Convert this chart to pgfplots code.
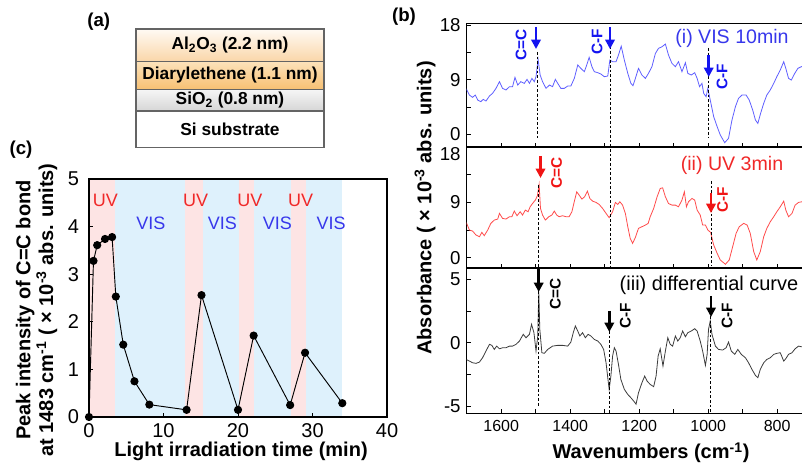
\documentclass[border=0pt]{standalone}
\usepackage{fontspec}
\setmainfont{Liberation Sans}
\usepackage{pgfplots}
\pgfplotsset{compat=1.18}
\usetikzlibrary{arrows.meta}
\definecolor{uvpink}{RGB}{253,228,228}
\definecolor{visblue}{RGB}{222,241,252}
\definecolor{uvtext}{RGB}{240,40,40}
\definecolor{vistext}{RGB}{55,55,235}
\definecolor{cblue}{RGB}{95,95,255}
\definecolor{cred}{RGB}{255,75,75}
\definecolor{cgray}{RGB}{60,60,60}
\definecolor{ablue}{RGB}{20,20,240}
\definecolor{ared}{RGB}{240,20,20}
\definecolor{stackgray}{RGB}{100,100,100}
\definecolor{alTop}{RGB}{255,250,244}
\definecolor{alBot}{RGB}{250,214,168}
\definecolor{diTop}{RGB}{252,226,186}
\definecolor{diBot}{RGB}{247,192,115}
\definecolor{siTop}{RGB}{246,246,246}
\definecolor{siBot}{RGB}{214,214,214}
\newcommand{\fs}[1]{\fontsize{#1}{#1}\selectfont}
\pgfplotsset{
  myax/.style={scale only axis, axis line style={line width=1.2pt}, tick align=inside,
    xtick pos=bottom, ytick pos=left, major tick length=3pt, minor tick length=3pt,
    tick style={black, line width=0.6pt}, /pgf/number format/assume math mode=true,
    /pgf/number format/set thousands separator={}},
  specax/.style={myax, x dir=reverse, xmin=700, xmax=1700, width=258.75pt,
    xtick={800,1000,...,1600}, minor xtick={700,900,...,1700},
    yticklabel style={font=\fs{14}, xshift=-1pt},
    xticklabel style={font=\fs{12}, yshift=-1.5pt}},
}
\begin{document}
\begin{tikzpicture}
% ---------------- panel (c)
\begin{axis}[myax, at={(66.75pt,36.75pt)}, anchor=south west, width=223.5pt, height=178.5pt,
  axis line style={line width=2pt}, axis on top,
  xmin=0, xmax=40, ymin=0, ymax=5, xtick={0,10,...,40}, ytick={0,1,...,5},
  ticklabel style={font=\fs{15}}, yticklabel style={xshift=-4pt}, xticklabel style={yshift=-1pt}]
\fill[uvpink] (axis cs:0,0) rectangle (axis cs:3.45,5);
\fill[visblue] (axis cs:3.45,0) rectangle (axis cs:12.9,5);
\fill[uvpink] (axis cs:12.9,0) rectangle (axis cs:15.3,5);
\fill[visblue] (axis cs:15.3,0) rectangle (axis cs:20.2,5);
\fill[uvpink] (axis cs:20.2,0) rectangle (axis cs:22.1,5);
\fill[visblue] (axis cs:22.1,0) rectangle (axis cs:27.1,5);
\fill[uvpink] (axis cs:27.1,0) rectangle (axis cs:29.1,5);
\fill[visblue] (axis cs:29.1,0) rectangle (axis cs:33.9,5);
\addplot[black, line width=0.7pt, mark=*, mark size=2.7pt] coordinates {
(0,0) (0.6,3.28) (1.1,3.61) (2.15,3.74) (3.1,3.78) (3.6,2.53) (4.6,1.52) (6.1,0.75)
(8.1,0.26) (13.1,0.15) (15.1,2.56) (20,0.15) (22.1,1.71) (27,0.25) (29,1.35) (34,0.29)};
\node[uvtext, font=\fs{13.5}] at (axis cs:2.2,4.56) {UV};
\node[uvtext, font=\fs{13.5}] at (axis cs:14.3,4.56) {UV};
\node[uvtext, font=\fs{13.5}] at (axis cs:21.6,4.56) {UV};
\node[uvtext, font=\fs{13.5}] at (axis cs:28.4,4.56) {UV};
\node[vistext, font=\fs{13.5}] at (axis cs:8.3,4.06) {VIS};
\node[vistext, font=\fs{13.5}] at (axis cs:17.9,4.06) {VIS};
\node[vistext, font=\fs{13.5}] at (axis cs:25.3,4.06) {VIS};
\node[vistext, font=\fs{13.5}] at (axis cs:32.5,4.06) {VIS};
\end{axis}
% ---------------- panel (b) top
\begin{axis}[specax, at={(350pt,239pt)}, anchor=south west, height=93pt,
  ymin=-2.14, ymax=18.26, ytick={0,9,18}, minor ytick={4.5,13.5}, xticklabels={}]
\addplot[cblue, line width=0.6pt] table {
1702 7.56
1692 6.46
1683 6.08
1675 6.46
1668 5.64
1659 5.37
1652 5.75
1644 5.48
1634 6.3
1625 6.74
1615 7.56
1605 8.66
1596 7.56
1586 7.29
1576 7.84
1567 7.84
1560 9.37
1552 8.11
1543 8.66
1533 8.38
1525 9.04
1518 8.38
1511 9.2
1504 8.66
1499 9.48
1493 12.33
1487 9.75
1480 8.66
1470 7.56
1460 8.11
1451 7.84
1443 9.04
1436 8.38
1427 7.56
1417 7.56
1407 7.95
1398 7.95
1388 9.2
1378 11.4
1369 10.85
1359 10.3
1352 11.4
1345 12.66
1337 11.13
1330 10.3
1320 10.14
1311 9.92
1301 9.48
1291 9.59
1285 12.22
1277 11.95
1267 11.95
1260 13.04
1252 14.5
1243 12.22
1233 10.03
1224 8.38
1218 8.0
1211 9.2
1202 10.85
1192 9.75
1182 9.2
1173 10.03
1163 11.13
1153 13.3
1144 14.14
1134 14.4
1124 14.85
1115 13.04
1105 11.67
1095 11.13
1086 11.95
1076 10.3
1066 11.78
1059 10.03
1049 9.75
1039 10.14
1032 9.2
1025 7.84
1018 8.38
1013 6.74
1006 6.19
1001 7.56
994 5.64
984 2.9
974 1.26
965 -0.1
952 -1.38
941 -0.66
931 2.35
921 4.55
912 5.92
902 6.46
890 6.46
881 5.64
871 4.0
863 2.35
856 1.8
848 3.45
839 5.1
830 6.46
820 7.29
810 8.38
801 9.48
791 10.58
781 11.95
775 10.85
767 9.2
759 8.93
749 10.03
740 10.85
730 11.13
700 11.3
};
\end{axis}
% ---------------- panel (b) middle
\begin{axis}[specax, at={(350pt,148.3pt)}, anchor=south west, height=90.75pt,
  ymin=-1.72, ymax=18.0, ytick={0,9}, extra y ticks={18}, extra y tick style={yticklabel style={yshift=-5pt}},
  minor ytick={4.5,13.5}, xticklabels={}]
\addplot[cred, line width=0.6pt] table {
1702 5.86
1692 4.51
1683 4.35
1673 3.7
1663 3.42
1656 4.13
1649 3.59
1639 4.51
1630 5.59
1620 6.13
1610 6.3
1605 7.22
1596 6.41
1586 6.3
1576 6.68
1569 6.68
1562 7.6
1554 6.84
1545 7.49
1538 6.95
1530 7.76
1522 7.49
1516 8.3
1509 8.84
1501 9.39
1495 10.09
1490 11.93
1486 8.03
1480 6.95
1472 6.13
1462 6.68
1453 6.95
1446 7.6
1439 6.95
1432 6.68
1422 6.84
1412 6.68
1403 6.68
1395 7.49
1387 9.39
1381 10.74
1374 10.2
1366 9.55
1358 9.93
1350 10.85
1343 9.66
1335 9.22
1325 9.01
1316 8.68
1306 8.03
1296 7.22
1287 6.52
1277 7.49
1269 9.01
1262 8.68
1256 9.12
1248 8.57
1240 7.22
1233 5.05
1226 3.15
1219 2.34
1211 3.3
1202 4.78
1192 5.05
1182 5.32
1174 5.59
1168 6.68
1158 8.03
1148 9.93
1139 11.28
1132 11.39
1124 9.93
1115 8.84
1105 8.57
1095 8.57
1086 8.3
1076 9.39
1069 10.74
1063 8.3
1057 9.12
1047 9.66
1039 9.39
1032 7.76
1023 6.95
1016 5.32
1008 5.32
1001 4.51
993 4.13
984 2.07
974 0.72
965 -0.37
950 -1.07
939 -0.37
929 1.8
919 3.97
910 5.05
897 5.59
887 5.32
878 3.97
868 0.99
859 -0.37
849 0.99
839 3.42
830 4.78
820 5.86
810 6.68
801 7.49
791 8.3
781 9.22
775 7.76
767 6.68
757 7.22
748 8.57
738 9.01
728 9.12
700 9.3
};
\end{axis}
% ---------------- panel (b) bottom
\begin{axis}[specax, at={(350pt,39.5pt)}, anchor=south west, height=108.8pt,
  ymin=-5.57, ymax=5.87, ytick={-5,0,5}, minor ytick={-2.5,2.5}]
\addplot[cgray, line width=0.6pt] table {
1702 -1.32
1692 -1.45
1683 -1.58
1673 -1.63
1663 -1.53
1654 -1.19
1644 -0.66
1634 -0.13
1627 -0.21
1620 -0.53
1613 -0.27
1605 -0.48
1596 -0.4
1586 -0.4
1576 -0.27
1567 -0.27
1557 -0.13
1547 0.13
1536 0.66
1528 0.39
1518 0.66
1512 1.45
1505 0.79
1499 -0.66
1494 0.5
1491 4.0
1488 1.05
1482 -0.79
1475 -0.84
1465 -0.53
1451 -0.27
1436 -0.21
1422 -0.21
1407 -0.27
1398 0.05
1391 0.79
1385 1.32
1378 0.92
1372 0.53
1364 0.79
1356 0.39
1348 0.66
1340 0.53
1330 0.26
1320 0.13
1311 -0.13
1303 -0.53
1296 -1.58
1291 -2.76
1287 -3.68
1282 -2.63
1277 -1.05
1272 -0.4
1267 -0.66
1260 -1.71
1253 -2.9
1243 -3.68
1233 -4.08
1224 -4.34
1216 -4.6
1209 -4.85
1202 -3.95
1192 -3.16
1184 -2.63
1177 -3.03
1168 -3.29
1158 -3.47
1151 -2.63
1145 -1.05
1139 -0.48
1131 -1.84
1124 -0.66
1117 0.39
1110 -0.13
1103 -0.27
1095 0.53
1088 0.13
1081 0.39
1074 0.92
1066 0.47
1059 0.79
1049 0.92
1039 1.1
1032 0.92
1023 0.13
1016 -0.66
1008 -1.79
1003 -0.92
999 1.05
994 1.71
989 0.66
979 -0.27
970 -0.53
958 -0.58
948 -0.4
941 0.05
933 -0.66
923 -0.92
914 -0.53
904 -0.92
892 -1.19
883 -1.58
873 -2.11
863 -2.58
856 -2.76
849 -2.11
839 -1.58
830 -1.32
820 -1.19
810 -0.92
801 -0.84
791 -0.79
781 -1.45
775 -1.26
767 -0.92
757 -0.79
748 -0.48
738 -0.27
730 -0.32
700 -0.3
};
\end{axis}
% ---------------- annotations (pixel coordinates, y downward)
\begin{scope}[x=0.75pt, y=-0.75pt, yshift=349.5pt]
% panel (a) stack
\shade[top color=alTop, bottom color=alBot] (136,29) rectangle (324,61.7);
\shade[top color=diTop, bottom color=diBot] (136,61.7) rectangle (324,89.3);
\shade[top color=siTop, bottom color=siBot] (136,89.3) rectangle (324,111);
\draw[stackgray, line width=0.8pt] (136,29) rectangle (324,147.7)
  (136,61.7) -- (324,61.7) (136,89.3) -- (324,89.3) (136,111) -- (324,111);
\node[font=\bfseries\fs{13}] at (230,45.3) {Al\textsubscript{2}O\textsubscript{3} (2.2 nm)};
\node[font=\bfseries\fs{13}] at (230,75.5) {Diarylethene (1.1 nm)};
\node[font=\bfseries\fs{13}] at (230,100) {SiO\textsubscript{2} (0.8 nm)};
\node[font=\bfseries\fs{13}] at (230,129.5) {Si substrate};
% panel labels
\node[font=\bfseries\fs{14}] at (98.7,21.7) {(a)};
\node[font=\bfseries\fs{14}] at (404,17) {(b)};
\node[font=\bfseries\fs{14}] at (21,150) {(c)};
% axis labels
\node[font=\bfseries\fs{15}, anchor=base] at (241,457) {Light irradiation time (min)};
\node[font=\bfseries\fs{15}, anchor=base] at (651,459) {Wavenumbers (cm\textsuperscript{-1})};
\node[font=\bfseries\fs{15}, rotate=90] at (425,208) {Absorbance ( × 10\textsuperscript{-3} abs. units)};
\node[font=\bfseries\fontsize{15}{17}\selectfont, rotate=90, align=center] at (36.5,310)
  {Peak intensity of C=C bond\\at 1483 cm\textsuperscript{-1} ( × 10\textsuperscript{-3} abs. units)};
% dashed reference lines
\tikzset{dl/.style={black, line width=0.6pt, dash pattern=on 2pt off 1.5pt}}
\draw[dl] (537.7,52) -- (537.7,138);
\draw[dl] (538.5,185) -- (538.5,268);
\draw[dl] (538.5,291) -- (538.5,406);
\draw[dl] (610,37) -- (610,268);
\draw[dl] (609.5,331) -- (609.5,413);
\draw[dl] (708.7,48) -- (708.7,138);
\draw[dl] (711,181) -- (711,266);
\draw[dl] (710,316) -- (710,413);
% arrows
\tikzset{ar/.style={line width=2pt, -{Triangle[width=7pt,length=7pt]}}}
\draw[ar, ablue] (536,27) -- (536,49);
\draw[ar, ablue] (610,27) -- (610,49);
\draw[ar, ablue] (708.7,55) -- (708.7,77);
\draw[ar, ared] (540.5,156) -- (540.5,178);
\draw[ar, ared] (711,193) -- (711,213);
\draw[ar, black] (538.7,269) -- (538.7,292);
\draw[ar, black] (609.3,311) -- (609.3,332);
\draw[ar, black] (711,296) -- (711,317);
% labels
\node[ablue, font=\bfseries\fs{11.5}, rotate=90] at (521,45) {C=C};
\node[ablue, font=\bfseries\fs{11.5}, rotate=90] at (597,42) {C-F};
\node[ablue, font=\bfseries\fs{11.5}, rotate=90] at (722,77) {C-F};
\node[vistext, font=\fs{14.7}] at (732,38) {(i) VIS 10min};
\node[ared, font=\bfseries\fs{11.5}, rotate=90] at (556.7,173) {C=C};
\node[ared, font=\bfseries\fs{11.5}, rotate=90] at (722.7,200) {C-F};
\node[uvtext, font=\fs{14.7}] at (732,165) {(ii) UV 3min};
\node[black, font=\bfseries\fs{11.5}, rotate=90] at (555.3,294) {C=C};
\node[black, font=\bfseries\fs{11.5}, rotate=90] at (625.3,316) {C-F};
\node[black, font=\bfseries\fs{11.5}, rotate=90] at (727,316) {C-F};
\node[black, font=\fs{15}] at (709,285) {(iii) differential curve};
\end{scope}
\pgfresetboundingbox
\path[use as bounding box] (0,0) rectangle (601.5pt,349.5pt);
\end{tikzpicture}
\end{document}
